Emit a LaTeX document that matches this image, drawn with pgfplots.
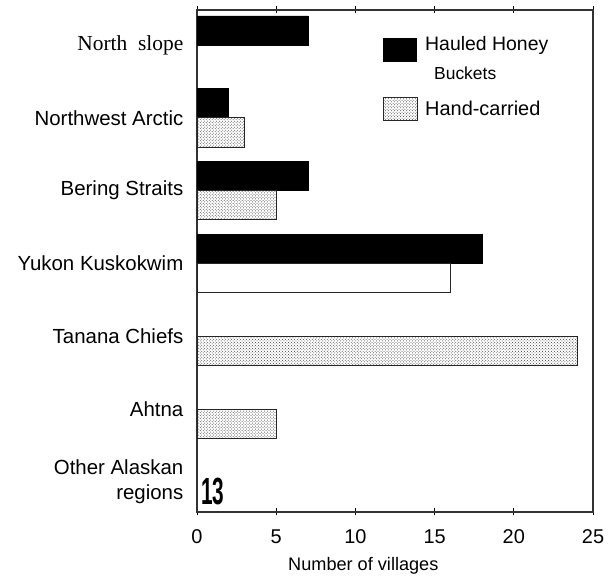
\documentclass[border=0pt]{standalone}
\usepackage{fontspec}
\setmainfont{Liberation Sans}
\newfontfamily\seriffont{Liberation Serif}
\usepackage{pgfplots}
\pgfplotsset{compat=1.18}
\usetikzlibrary{patterns}
\begin{document}
\begin{tikzpicture}[x=1bp,y=1bp]
\useasboundingbox (0,0) rectangle (609,580);
\begin{axis}[
  at={(197bp,68bp)}, anchor=south west,
  scale only axis, width=396bp, height=502bp,
  xmin=0, xmax=25, ymin=-0.41, ymax=6.48,
  xbar, bar width=0.4,
  clip=false,
  axis line style={draw=black!80, line width=1.1bp},
  xtick={0,5,10,15,20,25},
  ytick={0,1,2,3,4,5,6},
  yticklabels={{Other Alaskan\\regions},Ahtna,Tanana Chiefs,Yukon Kuskokwim,Bering Straits,Northwest Arctic,{\fontsize{21.5}{24}\selectfont\seriffont North\ \ slope}},
  yticklabel style={align=right, inner sep=0pt, xshift=-10bp, font=\fontsize{20.5}{25}\selectfont},
  ytick style={draw=none},
  xtick style={draw=black, line width=0.9bp},
  tick align=center, major tick length=7bp,
  xticklabel style={inner sep=0pt, yshift=-14bp, font=\fontsize{20}{22}\selectfont},
  /pgf/number format/assume math mode=true,
  xlabel={Number of villages},
  every axis x label/.style={at={(axis description cs:0.42,0)}, anchor=center, yshift=-54bp, font=\fontsize{18.2}{20}\selectfont},
]
\addplot[fill=black, draw=black, bar shift=0.2] coordinates {(7,6) (2,5) (7,4) (18,3)};
\addplot[fill=white, draw=black!85, line width=0.9bp, bar shift=-0.2,
  postaction={pattern=crosshatch dots, pattern color=black!75}] coordinates {(3,5) (5,4) (24,2) (5,1)};
\addplot[fill=white, draw=black!85, line width=1bp, bar shift=-0.2] coordinates {(16,3)};
\node[font=\bfseries\fontsize{38}{38}\selectfont, xscale=0.55, inner sep=0pt] at (axis cs:1.0,-0.135) {13};
\end{axis}
% legend
\fill[black] (383,518) rectangle (417,542);
\node[anchor=west, inner sep=0pt, font=\fontsize{19.5}{22}\selectfont] at (425,535) {Hauled Honey};
\node[anchor=west, inner sep=0pt, font=\fontsize{17.5}{19}\selectfont] at (434,507) {Buckets};
\draw[black!85, line width=0.9bp, fill=white, postaction={pattern=crosshatch dots, pattern color=black!75}] (383,460) rectangle (417,483);
\node[anchor=west, inner sep=0pt, font=\fontsize{20}{22}\selectfont] at (425,472) {Hand-carried};
\end{tikzpicture}
\end{document}
